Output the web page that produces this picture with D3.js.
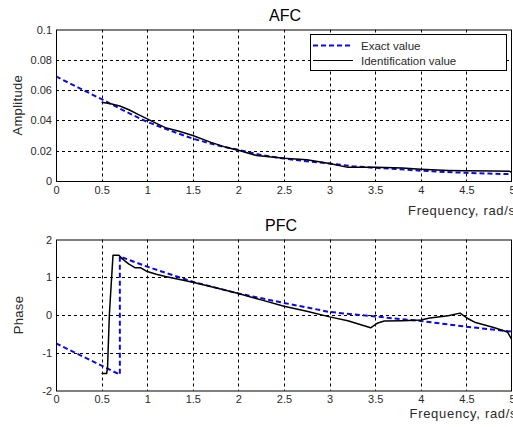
<!DOCTYPE html>
<html><head><meta charset="utf-8">
<script src="https://cdn.jsdelivr.net/npm/d3@7"></script>
<style>
html,body{margin:0;padding:0;background:#fff;}
svg{display:block;font-family:"Liberation Sans",Arial,sans-serif;}
</style></head>
<body>
<script>
// ---- data ----
const xTicks = [0, 0.5, 1, 1.5, 2, 2.5, 3, 3.5, 4, 4.5, 5];
const afcTicks = [0, 0.02, 0.04, 0.06, 0.08, 0.1];
const pfcTicks = [-2, -1, 0, 1, 2];

const exactAfcX = [0, 0.25, 0.5, 0.75, 1, 1.25, 1.5, 1.75, 2, 2.25, 2.5, 2.75, 3, 3.25, 3.5, 3.75, 4, 4.25, 4.5, 4.75, 5];
const exactAfcY = [0.069, 0.0615, 0.054, 0.0463, 0.039, 0.0333, 0.028, 0.0238, 0.0205, 0.0172, 0.0148, 0.013, 0.0115, 0.0098, 0.0087, 0.0078, 0.0068, 0.006, 0.0054, 0.0049, 0.0045];

const identAfcX = [0.5, 0.6, 0.7, 0.8, 0.9, 1.0, 1.1, 1.2, 1.35, 1.5, 1.7, 1.85, 2.0, 2.2, 2.5, 2.75, 3.0, 3.2, 3.5, 3.8, 4.0, 4.3, 4.5, 4.8, 4.97, 5.0];
const identAfcY = [0.052, 0.051, 0.0495, 0.047, 0.044, 0.041, 0.038, 0.0352, 0.0328, 0.030, 0.0255, 0.0225, 0.0203, 0.0168, 0.015, 0.014, 0.0115, 0.009, 0.009, 0.0085, 0.0078, 0.007, 0.0067, 0.0066, 0.0065, 0.0055];

const exactPfcX = [0, 0.7, 0.7, 1.0, 1.5, 2.0, 2.5, 3.0, 3.5, 4.0, 4.5, 5.0];
const exactPfcY = [-0.75, -1.58, 1.55, 1.28, 0.88, 0.57, 0.32, 0.08, -0.04, -0.16, -0.31, -0.44];

const identPfcX = [0.5, 0.555, 0.565, 0.585, 0.605, 0.625, 0.69, 0.72, 0.8, 0.87, 0.93, 1.0, 1.1, 1.2, 1.5, 1.75, 2.0, 2.25, 2.5, 2.75, 3.0, 3.2, 3.45, 3.52, 3.6, 3.8, 4.0, 4.1, 4.3, 4.43, 4.52, 4.6, 4.8, 4.95, 5.0];
const identPfcY = [-1.55, -1.55, -1.4, 0, 0.8, 1.58, 1.58, 1.5, 1.35, 1.25, 1.25, 1.15, 1.08, 1.02, 0.87, 0.72, 0.57, 0.4, 0.23, 0.1, -0.05, -0.15, -0.34, -0.22, -0.16, -0.15, -0.13, -0.08, -0.02, 0.05, -0.1, -0.2, -0.33, -0.45, -0.66];

const legendLabels = ["Exact value", "Identification value"];

// ---- drawing ----
const W = 513, H = 427;
const svg = d3.select("body").append("svg").attr("width", W).attr("height", H);
svg.append("rect").attr("width", W).attr("height", H).attr("fill", "#fff");

const left = 56, right = 512;
const BLUE = "#0a0ae6";
const TXT = "#2a2a2a";

function panel(cfg) {
  const x = d3.scaleLinear().domain([0, 5]).range([left, right]);
  const y = d3.scaleLinear().domain(cfg.ydom).range([cfg.bottom, cfg.top]);
  const g = svg.append("g");
  const clipId = "clip" + cfg.id;
  svg.append("clipPath").attr("id", clipId).append("rect")
    .attr("x", left).attr("y", cfg.top).attr("width", right - left).attr("height", cfg.bottom - cfg.top);

  // grid
  g.selectAll(".vg").data(xTicks.slice(1, -1)).join("line")
    .attr("x1", d => Math.round(x(d)) + 0.5).attr("x2", d => Math.round(x(d)) + 0.5)
    .attr("y1", cfg.top).attr("y2", cfg.bottom)
    .attr("stroke", "#000").attr("stroke-width", 1).attr("stroke-dasharray", "3,3");
  g.selectAll(".hg").data(cfg.yticks.slice(1, -1)).join("line")
    .attr("y1", d => Math.round(y(d)) + 0.5).attr("y2", d => Math.round(y(d)) + 0.5)
    .attr("x1", left).attr("x2", right)
    .attr("stroke", "#000").attr("stroke-width", 1).attr("stroke-dasharray", "3,3");

  // axes
  const xAxis = d3.axisBottom(x).tickValues(xTicks).tickSize(0).tickPadding(5)
    .tickFormat(d => String(d));
  const gx = g.append("g").attr("transform", `translate(0,${cfg.bottom})`).call(xAxis);
  gx.select(".domain").remove();
  gx.selectAll("text").attr("font-size", 11).attr("fill", TXT).attr("font-family", '"Liberation Sans",Arial,sans-serif');

  const yAxis = d3.axisLeft(y).tickValues(cfg.yticks).tickSize(0).tickPadding(4)
    .tickFormat(d => String(d));
  const gy = g.append("g").attr("transform", `translate(${left},0)`).call(yAxis);
  gy.select(".domain").remove();
  gy.selectAll("text").attr("font-size", 11).attr("fill", TXT).attr("font-family", '"Liberation Sans",Arial,sans-serif');

  // lines
  const line = d3.line().x(d => x(d[0])).y(d => y(d[1]));
  const lg = g.append("g").attr("clip-path", `url(#${clipId})`);
  lg.append("path").datum(cfg.exX.map((v, i) => [v, cfg.exY[i]]))
    .attr("d", line).attr("fill", "none").attr("stroke", BLUE)
    .attr("stroke-width", 2).attr("stroke-dasharray", "5,3");
  lg.append("path").datum(cfg.idX.map((v, i) => [v, cfg.idY[i]]))
    .attr("d", line).attr("fill", "none").attr("stroke", "#000")
    .attr("stroke-width", 1.5).attr("stroke-linejoin", "round");

  // frame
  g.append("rect").attr("x", left + 0.5).attr("y", cfg.top + 0.5)
    .attr("width", right - left - 1).attr("height", cfg.bottom - cfg.top)
    .attr("fill", "none").attr("stroke", "#000").attr("stroke-width", 1);

  // title
  g.append("text").attr("x", cfg.titleX).attr("y", cfg.top - 9)
    .attr("text-anchor", "middle").attr("font-size", 16).attr("fill", "#000")
    .text(cfg.title);
  // x label
  g.append("text").attr("x", cfg.xlabX).attr("y", cfg.xlabY)
    .attr("font-size", 13).attr("letter-spacing", 0.7).attr("fill", TXT)
    .text("Frequency, rad/s");
  // y label
  g.append("text").attr("transform", `translate(${cfg.ylabX},${(cfg.top + cfg.bottom) / 2}) rotate(-90)`)
    .attr("text-anchor", "middle").attr("font-size", 13).attr("letter-spacing", 0.3).attr("fill", TXT)
    .text(cfg.ylabel);
  return { x, y, g };
}

const p1 = panel({ id: 1, top: 29.5, bottom: 181, ydom: [0, 0.1], yticks: afcTicks,
  exX: exactAfcX, exY: exactAfcY, idX: identAfcX, idY: identAfcY,
  title: "AFC", titleX: 285, xlabX: 408, xlabY: 214.5, ylabel: "Amplitude", ylabX: 21.5 });
const p2 = panel({ id: 2, top: 239.5, bottom: 390.5, ydom: [-2, 2], yticks: pfcTicks,
  exX: exactPfcX, exY: exactPfcY, idX: identPfcX, idY: identPfcY,
  title: "PFC", titleX: 281, xlabX: 409.5, xlabY: 417.5, ylabel: "Phase", ylabX: 23 });

// legend
const lg = svg.append("g");
lg.append("rect").attr("x", 310.5).attr("y", 34.5).attr("width", 196).attr("height", 36)
  .attr("fill", "#fff").attr("stroke", "#000").attr("stroke-width", 1);
const styles = [{ c: BLUE, w: 2, da: "5,3" }, { c: "#000", w: 1.2, da: null }];
legendLabels.forEach((t, i) => {
  const yy = 45.5 + i * 15;
  lg.append("line").attr("x1", 313).attr("x2", 353).attr("y1", yy).attr("y2", yy)
    .attr("stroke", styles[i].c).attr("stroke-width", styles[i].w)
    .attr("stroke-dasharray", styles[i].da);
  lg.append("text").attr("x", 361).attr("y", yy + 4).attr("font-size", 11.5)
    .attr("fill", TXT).text(t);
});
</script>
</body></html>
